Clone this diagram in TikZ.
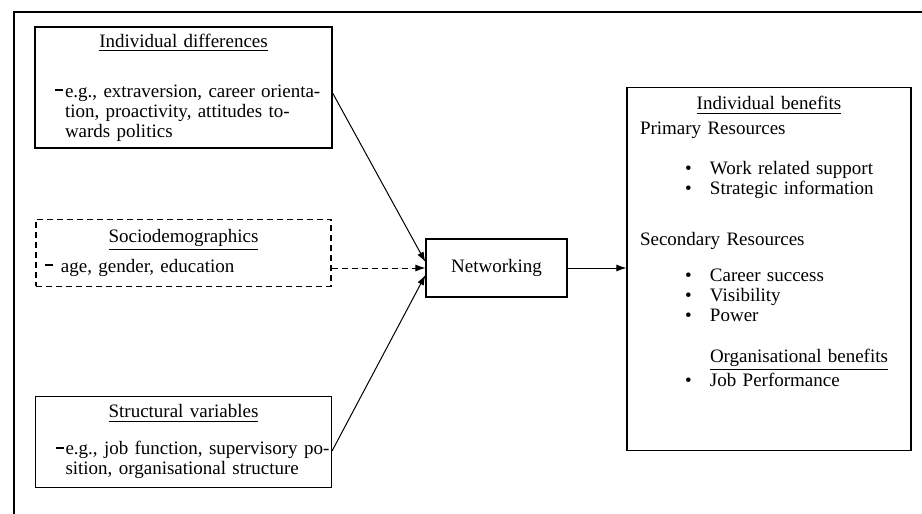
\documentclass[tikz,border=0pt]{standalone}
\usepackage{fontspec}
\setmainfont{Liberation Serif}
\usepackage{tikz}
\usetikzlibrary{arrows.meta,positioning}

\newcommand{\boxhead}[1]{{\centering\underline{#1}\par}}
\newcommand{\dashmark}[1]{\leavevmode\llap{\rule[0.7ex]{4pt}{1pt}\hspace{#1}}}
\newcommand{\benitem}[1]{\hspace*{22.5pt}\makebox[12.5pt][l]{\textbullet}#1}

\tikzset{
  factor/.style={draw,line width=0.6pt,inner xsep=0pt,inner ysep=0pt,
    text width=#1,font=\fontsize{9.5}{10}\selectfont},
  link/.style={-{Latex[length=5pt,width=3.5pt]},line width=0.5pt},
}

\begin{document}
\begin{tikzpicture}[x=0.5pt,y=-0.5pt]
  \useasboundingbox (0,0) rectangle (922,514);
  % frame
  \draw[line width=0.6pt] (14,514) -- (14,12) -- (922,12);

  \node[factor=148.5pt,minimum height=60.5pt] (ind) at (183.5,87.5)
    {\boxhead{Individual differences}\vspace{15pt}
     {\raggedright\leftskip=15pt\dashmark{1pt}e.g., extraversion, career orienta-\\
      tion, proactivity, attitudes to-\\ wards politics\par}};
  \node[factor=147.5pt,minimum height=33.5pt,dash pattern=on 3pt off 2pt,
        below=35pt of ind] (socio)
    {\boxhead{Sociodemographics}\vspace{3.5pt}
     {\raggedright\leftskip=12.5pt\dashmark{4pt}age, gender, education\par}};
  \node[factor=148pt,minimum height=45.5pt,below=54.5pt of socio] (struct)
    {\boxhead{Structural variables}\vspace{8.5pt}
     {\raggedright\leftskip=15pt\dashmark{1pt}e.g., job function, supervisory po-\\
      sition, organisational structure\par}};

  \node[draw,line width=0.6pt,minimum width=70.5pt,minimum height=29pt,
        font=\fontsize{9.5}{10}\selectfont] (net) at (496.5,268) {Networking};

  \node[factor=142pt,minimum height=179pt,inner ysep=4.5pt] (ben) at (769,269)
    {\boxhead{Individual benefits}\vspace{2.5pt}
     {\raggedright\leftskip=6.5pt
      Primary Resources\\[10pt]
      \benitem{Work related support}\\
      \benitem{Strategic information}\\[15.5pt]
      Secondary Resources\\[8pt]
      \benitem{Career success}\\
      \benitem{Visibility}\\
      \benitem{Power}\\[10.5pt]
      \hspace*{35pt}\underline{Organisational benefits}\\
      \benitem{Job Performance}\rule[-27.5pt]{0pt}{27.5pt}\par}};

  \draw[link] ([yshift=-2.75pt]ind.east) -- ([yshift=3pt]net.west);
  \draw[link,dash pattern=on 3pt off 2pt] (net.west -| socio.east) -- (net.west);
  \draw[link] ([yshift=-4.5pt]struct.east) -- ([yshift=-3.5pt]net.west);
  \draw[link] (net.east) -- (net.east -| ben.west);
\end{tikzpicture}
\end{document}
